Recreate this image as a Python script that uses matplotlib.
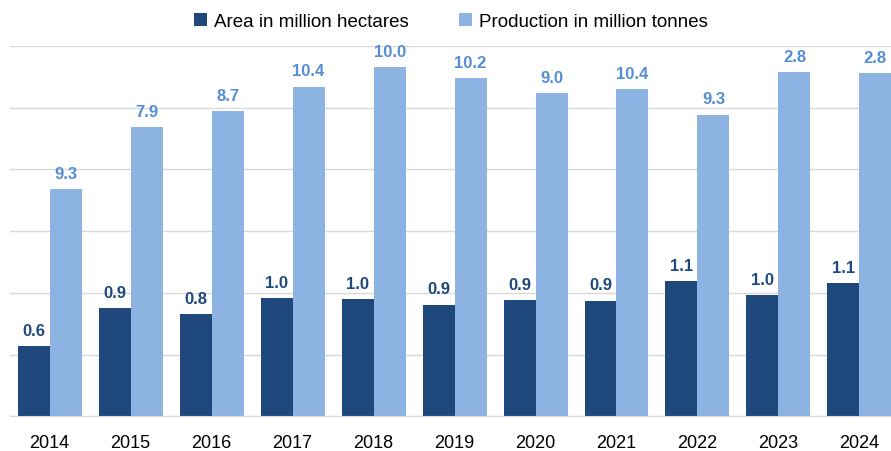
import numpy as np
import matplotlib.pyplot as plt

plt.rcParams['font.family'] = ['Liberation Sans', 'DejaVu Sans']

years = ['2014', '2015', '2016', '2017', '2018', '2019', '2020', '2021', '2022', '2023', '2024']
# bar heights as drawn (the picture's bars are not to the scale of their labels)
area_bar = [2.27, 3.51, 3.32, 3.83, 3.80, 3.62, 3.76, 3.75, 4.38, 3.93, 4.32]
prod_bar = [7.37, 9.38, 9.90, 10.68, 11.32, 10.96, 10.47, 10.60, 9.78, 11.16, 11.13]
# value labels as printed
area_lbl = ['0.6', '0.9', '0.8', '1.0', '1.0', '0.9', '0.9', '0.9', '1.1', '1.0', '1.1']
prod_lbl = ['9.3', '7.9', '8.7', '10.4', '10.0', '10.2', '9.0', '10.4', '9.3', '2.8', '2.8']

dark = '#1f497d'
light = '#8db3e2'
light_txt = '#558ed5'

fig = plt.figure(figsize=(8.91, 4.52), dpi=100)
ax = fig.add_axes([10 / 891, 0.0768, 1 - 10 / 891, 0.819])

x = np.arange(len(years))
w = 0.395
b1 = ax.bar(x - w / 2, area_bar, w, color=dark, label='Area in million hectares')
b2 = ax.bar(x + w / 2, prod_bar, w, color=light, label='Production in million tonnes')

for rect, t in zip(b1, area_lbl):
    ax.annotate(t, (rect.get_x() + rect.get_width() / 2, rect.get_height()),
                xytext=(0, 6), textcoords='offset points', ha='center', va='bottom',
                fontsize=12, fontweight='bold', color=dark)
for rect, t in zip(b2, prod_lbl):
    ax.annotate(t, (rect.get_x() + rect.get_width() / 2, rect.get_height()),
                xytext=(0, 6), textcoords='offset points', ha='center', va='bottom',
                fontsize=12, fontweight='bold', color=light_txt)

ax.set_xlim(-0.49, 10.39)
ax.set_ylim(0, 12)
ax.set_yticks(np.arange(0, 13, 2))
ax.set_yticklabels([])
ax.yaxis.grid(True, color='#d9d9d9', linewidth=1)
ax.set_axisbelow(True)
ax.tick_params(axis='y', length=0)
ax.set_xticks(x)
ax.set_xticklabels(years, fontsize=13)
ax.tick_params(axis='x', length=0, pad=13)
for s in ['top', 'right', 'left']:
    ax.spines[s].set_visible(False)
ax.spines['bottom'].set_color('#d9d9d9')

fig.legend(loc='upper center', bbox_to_anchor=(0.506, 1.007), ncol=2, frameon=False,
           fontsize=13.5, handlelength=0.7, handleheight=0.7, handletextpad=0.35,
           columnspacing=2.7)

fig.savefig('out.png', dpi=100)
